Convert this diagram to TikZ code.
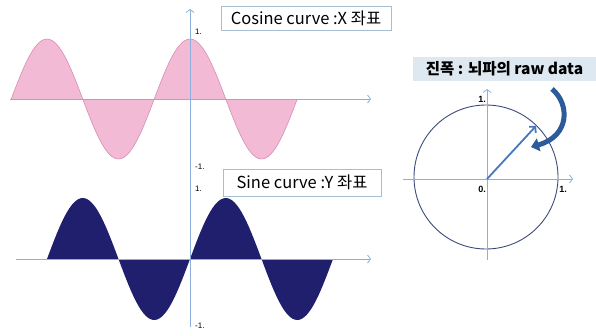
\documentclass[tikz,border=0pt]{standalone}
\usepackage{fontspec}
\setmainfont{Noto Sans CJK KR}
\newfontfamily\numfont{Liberation Sans}
\usetikzlibrary{arrows.meta}
\definecolor{pinkfill}{RGB}{243,186,214}
\definecolor{pinkline}{RGB}{214,140,180}
\definecolor{navyfill}{RGB}{31,31,110}
\definecolor{axisblue}{RGB}{140,175,220}
\definecolor{circline}{RGB}{60,75,120}
\definecolor{boxline}{RGB}{165,190,210}
\definecolor{labelfill}{RGB}{222,232,240}
\definecolor{vecblue}{RGB}{70,120,190}
\definecolor{curvblue}{RGB}{45,90,155}
\tikzset{
  axisline/.style={draw=axisblue, line width=0.8pt},
  axisarrow/.style={axisline, -{Straight Barb[length=3pt,width=8pt]}},
  ticklbl/.style={font=\numfont\fontsize{8}{9}\selectfont, inner sep=0pt, anchor=west},
  circlbl/.style={font=\numfont\bfseries\fontsize{9}{10}\selectfont, inner sep=0pt},
  titlebox/.style={draw=boxline, line width=0.8pt, fill=white, inner sep=0pt,
    font=\fontsize{16.5}{18}\selectfont},
}
\begin{document}
\begin{tikzpicture}[x=1pt,y=-1pt]
\useasboundingbox (0,0) rectangle (596,335);
% ---------- top plot: cosine ----------
\fill[pinkfill] (11,99) -- plot[domain=11:297,samples=120] (\x,{99-60*cos((\x-190)/143*360)}) -- (297,99) -- cycle;
\draw[pinkline, line width=0.6pt] plot[domain=11:297,samples=120] (\x,{99-60*cos((\x-190)/143*360)});
\coordinate (tx0) at (10,99);
\coordinate (tx1) at (371,99);
\coordinate (ty0) at (190,170);
\coordinate (ty1) at (190,9);
\draw[axisarrow] (tx0) -- (tx1);
\draw[axisarrow] (ty0) -- (ty1);
\node[ticklbl] (t1) at (195,32) {1.};
\node[ticklbl] (tm1) at (195,167) {-1.};
\node[titlebox, minimum width=170pt, minimum height=24pt] (cosbox) at (306,18) {Cosine curve :X 좌표};
% ---------- bottom plot: sine ----------
\fill[navyfill] (47,259) -- plot[domain=47:333,samples=120] (\x,{259-61*sin((\x-190)/143*360)}) -- (333,259) -- cycle;
\coordinate (bx0) at (16,259);
\coordinate (bx1) at (371,259);
\coordinate (by0) at (190,327);
\coordinate (by1) at (190,170);
\draw[axisarrow] (bx0) -- (bx1);
\draw[axisline] (by0) -- (by1);
\node[ticklbl] (b1) at (195,189) {1.};
\node[ticklbl] (bm1) at (195,326) {-1.};
\node[titlebox, minimum width=158pt, minimum height=27pt] (sinbox) at (302,182.5) {Sine curve :Y 좌표};
% ---------- right: unit circle ----------
\node[draw=circline, line width=0.9pt, circle, minimum size=144pt, inner sep=0pt] (circ) at (486,177) {};
\coordinate (o) at (487,179);
\coordinate (cx0) at (403,179);
\coordinate (cx1) at (573,179);
\coordinate (cy0) at (487,260);
\coordinate (cy1) at (487,89);
\draw[axisarrow] (cx0) -- (cx1);
\draw[axisarrow] (cy0) -- (cy1);
\coordinate (vtip) at (536,126);
\draw[vecblue, line width=1.8pt, -{Straight Barb[length=4pt,width=9pt]}] (o) -- (vtip);
\node[circlbl] (c1) at (482,99) {1.};
\node[circlbl] (c0) at (482,189) {0.};
\node[circlbl] (cr1) at (563,189) {1.};
\node[fill=labelfill, minimum width=183pt, minimum height=24pt, inner sep=0pt,
  font=\bfseries\fontsize{15.5}{17}\selectfont] (amp) at (504.5,69) {진폭 : 뇌파의 raw data};
\coordinate (cs) at (552,89);
\coordinate (ce) at (531,147);
\draw[curvblue, line width=5pt, -{Triangle[length=8pt,width=13pt]}] (cs) .. controls (570,104) and (570,136) .. (ce);
\end{tikzpicture}
\end{document}
